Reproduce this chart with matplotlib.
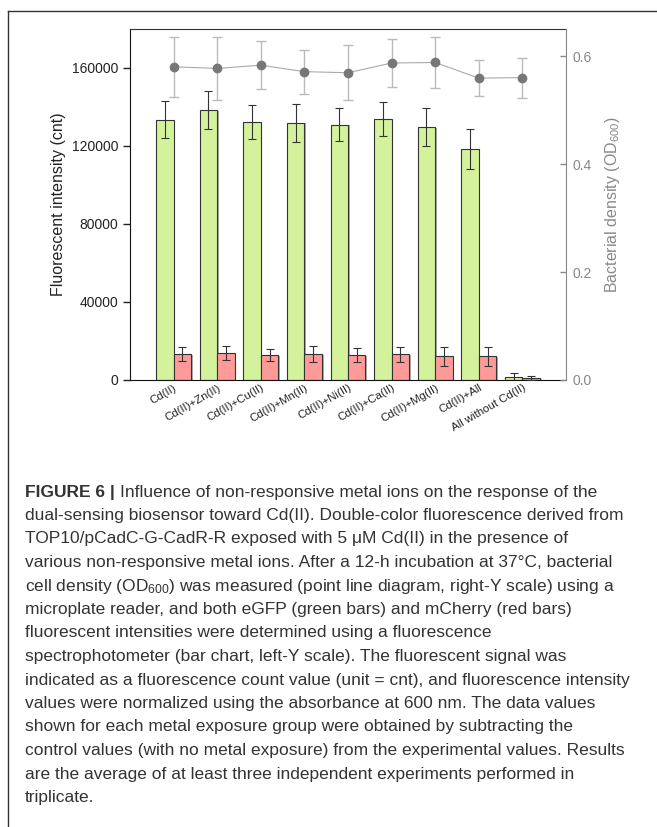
import numpy as np
import matplotlib
matplotlib.use("Agg")
import matplotlib.pyplot as plt
from matplotlib import patheffects
from matplotlib.lines import Line2D
from matplotlib.transforms import ScaledTranslation

plt.rcParams["font.family"] = ["Liberation Sans", "DejaVu Sans"]
plt.rcParams["mathtext.fontset"] = "custom"
plt.rcParams["mathtext.rm"] = "Liberation Sans"
plt.rcParams["mathtext.it"] = "Liberation Sans:italic"

groups = ["Cd(II)", "Cd(II)+Zn(II)", "Cd(II)+Cu(II)", "Cd(II)+Mn(II)",
          "Cd(II)+Ni(II)", "Cd(II)+Ca(II)", "Cd(II)+Mg(II)", "Cd(II)+All",
          "All without Cd(II)"]

# eGFP (green) and mCherry (red) fluorescence, cnt
egfp = [133500, 138500, 132300, 132000, 131000, 134000, 129600, 118300, 1700]
egfp_err = [9500, 9700, 8700, 9700, 8600, 8700, 9700, 10200, 2000]
mcherry = [13200, 13800, 12800, 13200, 12700, 13200, 12100, 12100, 900]
mcherry_err = [3600, 3500, 2900, 4100, 3500, 3900, 4900, 4900, 1000]

# bacterial density OD600
od = [0.580, 0.577, 0.583, 0.571, 0.569, 0.587, 0.588, 0.559, 0.560]
od_err = [0.055, 0.059, 0.045, 0.041, 0.051, 0.044, 0.048, 0.034, 0.037]

caption_head = "FIGURE 6 | "
caption_first = "Influence of non-responsive metal ions on the response of the"
caption = [
    "dual-sensing biosensor toward Cd(II). Double-color fluorescence derived from",
    "TOP10/pCadC-G-CadR-R exposed with 5 \u03bcM Cd(II) in the presence of",
    "various non-responsive metal ions. After a 12-h incubation at 37\u00b0C, bacterial",
    "cell density (OD$_{600}$) was measured (point line diagram, right-Y scale) using a",
    "microplate reader, and both eGFP (green bars) and mCherry (red bars)",
    "fluorescent intensities were determined using a fluorescence",
    "spectrophotometer (bar chart, left-Y scale). The fluorescent signal was",
    "indicated as a fluorescence count value (unit = cnt), and fluorescence intensity",
    "values were normalized using the absorbance at 600 nm. The data values",
    "shown for each metal exposure group were obtained by subtracting the",
    "control values (with no metal exposure) from the experimental values. Results",
    "are the average of at least three independent experiments performed in",
    "triplicate.",
]

W, H = 657, 827
fig = plt.figure(figsize=(W / 100, H / 100), dpi=100)

# frame around the figure panel (left and top edges)
fig.add_artist(Line2D([8 / W, 1.0], [1 - 11 / H, 1 - 11 / H],
                      color="#333333", lw=1.0))
fig.add_artist(Line2D([8 / W, 8 / W], [0, 1 - 11 / H],
                      color="#333333", lw=1.0))

ax = fig.add_axes([130 / W, 1 - 380 / H, 436 / W, 351 / H])
x = np.arange(1, len(groups) + 1)
bw = 0.4
shadow = [patheffects.SimplePatchShadow(offset=(1.2, -0.6),
                                        shadow_rgbFace="#888888", alpha=0.7),
          patheffects.Normal()]

b1 = ax.bar(x - bw / 2, egfp, bw, color="#d3f29b", edgecolor="#333333",
            lw=0.8, zorder=2)
b2 = ax.bar(x + bw / 2, mcherry, bw, color="#ff9a98", edgecolor="#333333",
            lw=0.8, zorder=2)
for p in list(b1) + list(b2):
    p.set_path_effects(shadow)
ax.errorbar(x - bw / 2, egfp, yerr=egfp_err, fmt="none", ecolor="#333333",
            elinewidth=0.8, capsize=3, capthick=0.8, zorder=3)
ax.errorbar(x + bw / 2, mcherry, yerr=mcherry_err, fmt="none",
            ecolor="#333333", elinewidth=0.8, capsize=3, capthick=0.8,
            zorder=3)

ax.set_xlim(0, 10)
ax.set_ylim(0, 180000)
ax.set_yticks([0, 40000, 80000, 120000, 160000])
ax.set_xticks(x)
ax.set_xticklabels(groups, rotation=30, ha="right", rotation_mode="anchor",
                   fontsize=8.2, color="#222222")
# nudge the slanted group names a little to the right
shift = ScaledTranslation(4 / 100, 0, fig.dpi_scale_trans)
for lbl in ax.get_xticklabels():
    lbl.set_transform(lbl.get_transform() + shift)
ax.tick_params(axis="x", length=0, pad=2)
ax.tick_params(axis="y", direction="out", length=5, width=1,
               labelsize=10, colors="#222222")
ax.set_ylabel("Fluorescent intensity (cnt)", fontsize=11.5, color="#222222",
              labelpad=4)
for s in ["left", "bottom"]:
    ax.spines[s].set_color("#111111")
ax.spines["top"].set_color("#333333")
ax.spines["right"].set_visible(False)

ax2 = ax.twinx()
ax2.errorbar(x, od, yerr=od_err, fmt="none", ecolor="#bbbbbb",
             elinewidth=1.0, capsize=3.5, capthick=1.0, zorder=2)
ax2.plot(x, od, "-", color="#aaaaaa", lw=0.8, zorder=3)
ax2.plot(x, od, "o", color="#777777", ms=6, zorder=4)
ax2.set_ylim(0, 0.65)
ax2.set_yticks([0.0, 0.2, 0.4, 0.6])
ax2.set_yticklabels(["0.0", "0.2", "0.4", "0.6"])
ax2.tick_params(axis="y", direction="in", length=4, width=1, pad=5,
                labelsize=10, colors="#888888")
ax2.set_ylabel("Bacterial density (OD$_{600}$)", fontsize=11.5,
               color="#888888", labelpad=8)
ax2.spines["right"].set_color("#888888")
for s in ["left", "top", "bottom"]:
    ax2.spines[s].set_visible(False)

# caption block
y0 = 1 - 492 / H
step = 23.5 / H
cap_kw = dict(fontsize=12.5, color="#333333", va="center", ha="left")
head = fig.text(25 / W, y0, caption_head, fontweight="bold", **cap_kw)
ax.annotate(caption_first, xy=(1, 0.5), xycoords=head,
            annotation_clip=False, **cap_kw)
for i, line in enumerate(caption, start=1):
    fig.text(25 / W, y0 - i * step, line, **cap_kw)

fig.savefig("out.png", dpi=100)
